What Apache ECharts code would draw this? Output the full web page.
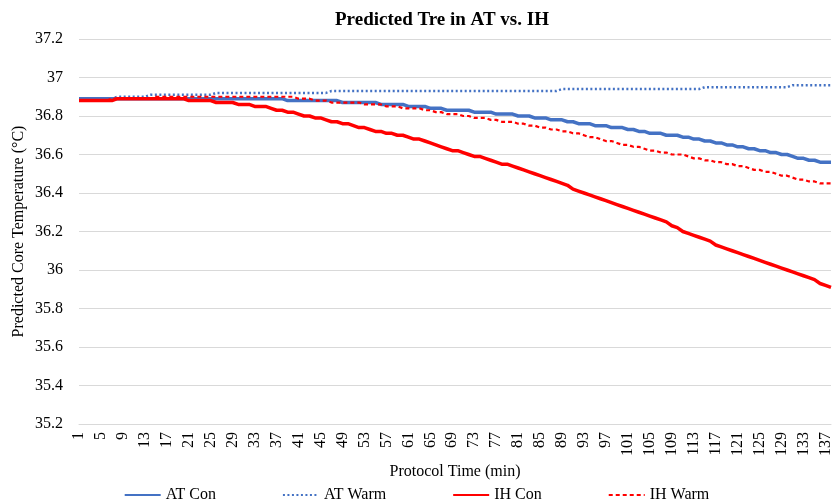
<!DOCTYPE html>
<html style="height: 100%">
<head>
<meta charset="utf-8">
<script src="https://cdn.jsdelivr.net/npm/echarts@6/dist/echarts.min.js"></script>
</head>
<body style="height: 100%; margin: 0; background: #fff">
<div id="container" style="width: 833px; height: 504px"></div>
<script>
// protocol minutes 1..138
var minutes = [];
for (var m = 1; m <= 138; m++) minutes.push(String(m));

var yTicks = [35.2, 37.2, 0.2]; // min, max, step

var atCon = [
  36.89,36.89,36.89,36.89,36.89,36.89,36.89,36.89,36.89,36.89,
  36.89,36.89,36.89,36.89,36.89,36.89,36.89,36.89,36.89,36.89,
  36.89,36.89,36.89,36.89,36.89,36.89,36.89,36.89,36.89,36.89,
  36.89,36.89,36.89,36.89,36.89,36.89,36.89,36.89,36.88,36.88,
  36.88,36.88,36.88,36.88,36.88,36.88,36.88,36.88,36.87,36.87,
  36.87,36.87,36.87,36.87,36.87,36.86,36.86,36.86,36.86,36.86,
  36.85,36.85,36.85,36.85,36.84,36.84,36.84,36.83,36.83,36.83,
  36.83,36.83,36.82,36.82,36.82,36.82,36.81,36.81,36.81,36.81,
  36.80,36.80,36.80,36.79,36.79,36.79,36.78,36.78,36.78,36.77,
  36.77,36.76,36.76,36.76,36.75,36.75,36.75,36.74,36.74,36.74,
  36.73,36.73,36.72,36.72,36.71,36.71,36.71,36.70,36.70,36.70,
  36.69,36.69,36.68,36.68,36.67,36.67,36.66,36.66,36.65,36.65,
  36.64,36.64,36.63,36.63,36.62,36.62,36.61,36.61,36.60,36.60,
  36.59,36.58,36.58,36.57,36.57,36.56,36.56,36.56
];

var atWarm = [
  36.89,36.89,36.89,36.89,36.89,36.89,36.89,36.90,36.90,36.90,
  36.90,36.90,36.90,36.91,36.91,36.91,36.91,36.91,36.91,36.91,
  36.91,36.91,36.91,36.91,36.91,36.92,36.92,36.92,36.92,36.92,
  36.92,36.92,36.92,36.92,36.92,36.92,36.92,36.92,36.92,36.92,
  36.92,36.92,36.92,36.92,36.92,36.92,36.93,36.93,36.93,36.93,
  36.93,36.93,36.93,36.93,36.93,36.93,36.93,36.93,36.93,36.93,
  36.93,36.93,36.93,36.93,36.93,36.93,36.93,36.93,36.93,36.93,
  36.93,36.93,36.93,36.93,36.93,36.93,36.93,36.93,36.93,36.93,
  36.93,36.93,36.93,36.93,36.93,36.93,36.93,36.93,36.94,36.94,
  36.94,36.94,36.94,36.94,36.94,36.94,36.94,36.94,36.94,36.94,
  36.94,36.94,36.94,36.94,36.94,36.94,36.94,36.94,36.94,36.94,
  36.94,36.94,36.94,36.94,36.95,36.95,36.95,36.95,36.95,36.95,
  36.95,36.95,36.95,36.95,36.95,36.95,36.95,36.95,36.95,36.95,
  36.96,36.96,36.96,36.96,36.96,36.96,36.96,36.96
];

var ihCon = [
  36.88,36.88,36.88,36.88,36.88,36.88,36.88,36.89,36.89,36.89,
  36.89,36.89,36.89,36.89,36.89,36.89,36.89,36.89,36.89,36.89,
  36.88,36.88,36.88,36.88,36.88,36.87,36.87,36.87,36.87,36.86,
  36.86,36.86,36.85,36.85,36.85,36.84,36.83,36.83,36.82,36.82,
  36.81,36.80,36.80,36.79,36.79,36.78,36.77,36.77,36.76,36.76,
  36.75,36.74,36.74,36.73,36.72,36.72,36.71,36.71,36.70,36.70,
  36.69,36.68,36.68,36.67,36.66,36.65,36.64,36.63,36.62,36.62,
  36.61,36.60,36.59,36.59,36.58,36.57,36.56,36.55,36.55,36.54,
  36.53,36.52,36.51,36.50,36.49,36.48,36.47,36.46,36.45,36.44,
  36.42,36.41,36.40,36.39,36.38,36.37,36.36,36.35,36.34,36.33,
  36.32,36.31,36.30,36.29,36.28,36.27,36.26,36.25,36.23,36.22,
  36.20,36.19,36.18,36.17,36.16,36.15,36.13,36.12,36.11,36.10,
  36.09,36.08,36.07,36.06,36.05,36.04,36.03,36.02,36.01,36.00,
  35.99,35.98,35.97,35.96,35.95,35.93,35.92,35.91
];

var ihWarm = [
  36.88,36.88,36.88,36.88,36.88,36.88,36.89,36.89,36.89,36.89,
  36.89,36.89,36.89,36.89,36.90,36.90,36.90,36.90,36.90,36.90,
  36.90,36.90,36.90,36.90,36.90,36.90,36.90,36.90,36.90,36.90,
  36.90,36.90,36.90,36.90,36.90,36.90,36.90,36.90,36.90,36.90,
  36.89,36.89,36.89,36.88,36.88,36.88,36.87,36.87,36.87,36.87,
  36.87,36.87,36.86,36.86,36.86,36.86,36.85,36.85,36.85,36.84,
  36.84,36.84,36.84,36.83,36.83,36.82,36.82,36.81,36.81,36.81,
  36.80,36.80,36.79,36.79,36.79,36.78,36.78,36.77,36.77,36.77,
  36.76,36.76,36.75,36.75,36.74,36.74,36.73,36.73,36.72,36.72,
  36.71,36.71,36.70,36.69,36.69,36.68,36.67,36.67,36.66,36.65,
  36.65,36.64,36.64,36.63,36.62,36.62,36.61,36.61,36.60,36.60,
  36.60,36.59,36.58,36.58,36.57,36.57,36.56,36.56,36.55,36.55,
  36.54,36.54,36.53,36.52,36.52,36.51,36.51,36.50,36.49,36.49,
  36.48,36.47,36.47,36.46,36.46,36.45,36.45,36.45
];

var blue = '#4472C4';
var red = '#FF0000';
var font = '"Liberation Serif", "Times New Roman", serif';

var chart = echarts.init(document.getElementById('container'));
var option = {
  animation: false,
  textStyle: { fontFamily: font, color: '#000' },
  title: {
    text: 'Predicted Tre in AT vs. IH',
    left: 330,
    top: 6,
    textStyle: { fontFamily: font, fontSize: 19, fontWeight: 'bold', color: '#000' }
  },
  legend: {
    bottom: -4,
    left: 'center',
    itemWidth: 36,
    itemHeight: 10,
    itemGap: 66,
    itemStyle: { opacity: 0 },
    textStyle: { fontFamily: font, fontSize: 16, color: '#000' },
    data: ['AT Con', 'AT Warm', 'IH Con', 'IH Warm']
  },
  grid: {
    left: 79,
    right: 2,
    top: 39,
    bottom: 80,
    outerBoundsMode: 'none'
  },
  xAxis: {
    type: 'category',
    data: minutes,
    boundaryGap: false,
    name: 'Protocol Time (min)',
    nameLocation: 'middle',
    nameGap: 40,
    nameMoveOverlap: false,
    nameTextStyle: { fontFamily: font, fontSize: 16, color: '#000' },
    axisLine: { lineStyle: { color: '#d9d9d9' } },
    axisTick: { show: false },
    axisLabel: {
      interval: 3,
      rotate: 90,
      margin: 8,
      fontFamily: font,
      fontSize: 16,
      color: '#000'
    }
  },
  yAxis: {
    type: 'value',
    min: yTicks[0],
    max: yTicks[1],
    interval: yTicks[2],
    name: 'Predicted Core Temperature (\u00B0C)',
    nameLocation: 'middle',
    nameGap: 52,
    nameMoveOverlap: false,
    nameTextStyle: { fontFamily: font, fontSize: 16, color: '#000' },
    axisLine: { show: false },
    axisTick: { show: false },
    splitLine: { lineStyle: { color: '#d9d9d9', width: 1 } },
    axisLabel: {
      margin: 16,
      fontFamily: font,
      fontSize: 16,
      color: '#000',
      formatter: function (v) { return String(Math.round(v * 10) / 10); }
    }
  },
  series: [
    {
      name: 'AT Con', type: 'line', data: atCon, symbol: 'none',
      lineStyle: { color: blue, width: 3.5 }, itemStyle: { color: blue }
    },
    {
      name: 'AT Warm', type: 'line', data: atWarm, symbol: 'none',
      lineStyle: { color: blue, width: 2.5, type: [2, 2.5] }, itemStyle: { color: blue }
    },
    {
      name: 'IH Con', type: 'line', data: ihCon, symbol: 'none',
      lineStyle: { color: red, width: 3.5 }, itemStyle: { color: red }
    },
    {
      name: 'IH Warm', type: 'line', data: ihWarm, symbol: 'none',
      lineStyle: { color: red, width: 2.2, type: [4, 3] }, itemStyle: { color: red }
    }
  ]
};
chart.setOption(option);
</script>
</body>
</html>
